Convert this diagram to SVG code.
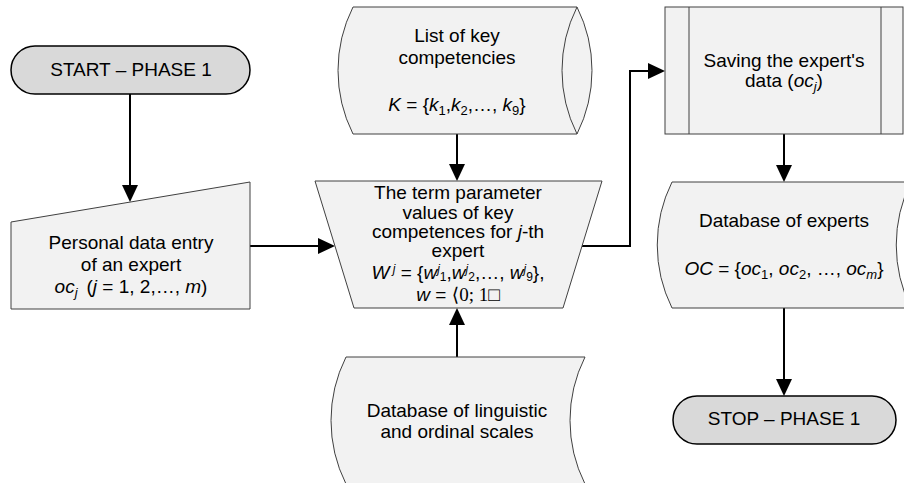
<svg xmlns="http://www.w3.org/2000/svg" width="904" height="483" viewBox="0 0 904 483">
<style>
text{font-family:"Liberation Sans",Arial,sans-serif;font-size:19px;fill:#000;text-anchor:middle}
.i{font-style:italic}
.s{font-size:13px}
.ss{font-size:12px}
.serif{font-family:"Liberation Serif","DejaVu Serif",serif}
.term{fill:#d9d9d9;stroke:#000;stroke-width:1.5}
.shape{fill:#f2f2f2;stroke:#404040;stroke-width:1}
.line{fill:none;stroke:#404040;stroke-width:1}
.conn{fill:none;stroke:#000;stroke-width:2;marker-end:url(#arr)}
</style>
<defs>
<marker id="arr" markerUnits="userSpaceOnUse" markerWidth="17" markerHeight="16" refX="13" refY="8" orient="auto">
<path d="M0,0 L17,8 L0,16 Z" fill="#000"/>
</marker>
</defs>

<g id="connectors">
<path class="conn" d="M130,94 V198"/>
<path class="conn" d="M250,246 H331"/>
<path class="conn" d="M457,134 V177"/>
<path class="conn" d="M457,357 V312"/>
<path class="conn" d="M582,246 H630 V71 H661"/>
<path class="conn" d="M784,134 V178"/>
<path class="conn" d="M784,308 V392"/>
</g>

<g id="start">
<rect class="term" x="11" y="46" width="239" height="48" rx="24"/>
<text x="131" y="76">START – PHASE 1</text>
</g>

<g id="personal-data">
<polygon class="shape" points="11,222 250,182 250,309 11,309"/>
<text x="131" y="249">Personal data entry</text>
<text x="131" y="271">of an expert</text>
<text x="131" y="293"><tspan class="i">oc</tspan><tspan class="i s" dy="4">j</tspan><tspan dy="-4" dx="9">(</tspan><tspan class="i">j</tspan> = 1, 2,…, <tspan class="i">m</tspan>)</text>
</g>

<g id="key-competencies">
<path class="shape" d="M353,7 H577 A142 142 0 0 1 577,134 H353 A142 142 0 0 1 353,7 Z"/>
<path class="line" d="M577,7 A142 142 0 0 0 577,134"/>
<text x="457" y="42">List of key</text>
<text x="457" y="64">competencies</text>
<text x="457" y="111"><tspan class="i">K</tspan> = {<tspan class="i">k</tspan><tspan class="s" dy="4">1</tspan><tspan dy="-4">,</tspan><tspan class="i">k</tspan><tspan class="s" dy="4">2</tspan><tspan dy="-4">,…, </tspan><tspan class="i">k</tspan><tspan class="s" dy="4">9</tspan><tspan dy="-4">}</tspan></text>
</g>

<g id="term-parameters">
<polygon class="shape" points="315,181 602,181 563,308 354,308"/>
<text x="458" y="199">The term parameter</text>
<text x="458" y="219">values of key</text>
<text x="458" y="238">competences for <tspan class="i">j</tspan>-th</text>
<text x="458" y="257">expert</text>
<text x="458" y="279"><tspan class="i">W</tspan><tspan class="i ss" dy="-6"> j</tspan><tspan dy="6"> = {</tspan><tspan class="i">w</tspan><tspan class="i ss" dy="-6">j</tspan><tspan class="ss" dy="8">1</tspan><tspan dy="-2">,</tspan><tspan class="i">w</tspan><tspan class="i ss" dy="-6">j</tspan><tspan class="ss" dy="8">2</tspan><tspan dy="-2">,…, </tspan><tspan class="i">w</tspan><tspan class="i ss" dy="-6">j</tspan><tspan class="ss" dy="8">9</tspan><tspan dy="-2">},</tspan></text>
<text x="458" y="301"><tspan class="i">w</tspan> = <tspan class="serif">⟨0; 1□</tspan></text>
</g>

<g id="scales-database">
<path class="shape" d="M346,357 H585 A142 142 0 0 0 585,484 H346 A142 142 0 0 1 346,357 Z"/>
<text x="457" y="417">Database of linguistic</text>
<text x="457" y="438">and ordinal scales</text>
</g>

<g id="saving">
<rect class="shape" x="665" y="7" width="238" height="127"/>
<path class="line" d="M689,7 V134 M881,7 V134"/>
<text x="784" y="67">Saving the expert's</text>
<text x="784" y="87">data (<tspan class="i">oc</tspan><tspan class="i s" dy="4">j</tspan><tspan dy="-4">)</tspan></text>
</g>

<g id="experts-database">
<path class="shape" d="M672,182 H911 A142 142 0 0 0 911,308 H672 A142 142 0 0 1 672,182 Z"/>
<text x="784" y="227">Database of experts</text>
<text x="784" y="275"><tspan class="i">OC</tspan> = {<tspan class="i">oc</tspan><tspan class="s" dy="4">1</tspan><tspan dy="-4">, </tspan><tspan class="i">oc</tspan><tspan class="s" dy="4">2</tspan><tspan dy="-4">, …, </tspan><tspan class="i">oc</tspan><tspan class="i s" dy="4">m</tspan><tspan dy="-4">}</tspan></text>
</g>

<g id="stop">
<rect class="term" x="673" y="396" width="223" height="48" rx="24"/>
<text x="784" y="425">STOP – PHASE 1</text>
</g>
</svg>
